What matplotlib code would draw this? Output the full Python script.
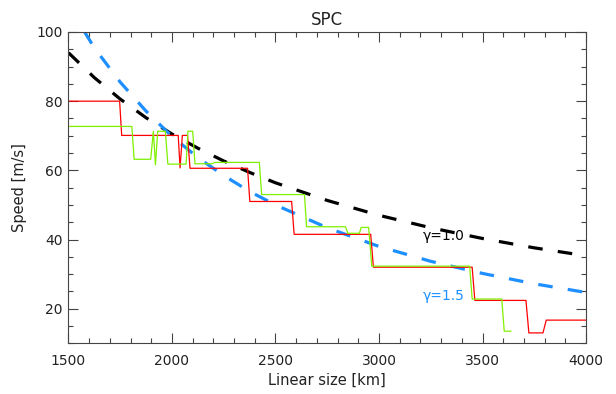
import matplotlib
matplotlib.use('Agg')
import matplotlib.pyplot as plt
from matplotlib.ticker import MultipleLocator

# red step curve (size in km, speed in m/s)
red_size = [1500, 1747, 1757, 2030, 2039, 2050, 2075, 2087, 2365, 2376, 2578, 2590,
            2960, 2973, 3450, 3463, 3710, 3724, 3792, 3808, 4000]
red_speed = [80.0, 80.0, 70.1, 70.1, 60.7, 70.1, 70.1, 60.6, 60.6, 51.0, 51.0, 41.5,
             41.5, 32.0, 32.0, 22.4, 22.4, 13.0, 13.0, 16.7, 16.7]

# green step curve
green_size = [1500, 1806, 1817, 1897, 1910, 1920, 1931, 1968, 1980, 2068, 2077, 2100,
              2111, 2195, 2205, 2422, 2433, 2640, 2650, 2838, 2850, 2905, 2914, 2950,
              2965, 3438, 3450, 3593, 3605, 3637]
green_speed = [72.7, 72.7, 63.2, 63.2, 71.3, 61.6, 71.3, 71.3, 61.8, 61.8, 71.3, 71.3,
               61.9, 61.9, 62.3, 62.3, 53.0, 53.0, 43.7, 43.7, 41.8, 41.8, 43.5, 43.5,
               32.3, 32.3, 22.8, 22.8, 13.5, 13.5]

# dashed reference curves
ref_size = [1500, 1625, 1750, 1875, 2000, 2125, 2250, 2375, 2500, 2750, 3000, 3250,
            3500, 3750, 4000]
gamma10_speed = [94.0, 86.8, 80.6, 75.2, 70.5, 66.4, 62.7, 59.4, 56.4, 51.3, 47.0,
                 43.4, 40.3, 37.6, 35.3]
gamma15_speed = [107.6, 95.4, 85.5, 77.1, 69.8, 63.7, 58.5, 53.9, 50.0, 43.4, 38.0,
                 33.7, 30.2, 27.2, 24.7]

plt.rcParams['lines.scale_dashes'] = False
plt.rcParams['font.family'] = 'DejaVu Sans'

fig = plt.figure(figsize=(6.16, 3.94), dpi=100)
ax = fig.add_axes([0.1112, 0.1287, 0.8401, 0.7901])

ax.plot(ref_size, gamma10_speed, color='black', lw=2.3, dashes=(10.5, 11))
ax.plot(ref_size, gamma15_speed, color='#1E8FFF', lw=2.3, dashes=(10.5, 11))
ax.plot(red_size, red_speed, color='#FF0000', lw=0.9)
ax.plot(green_size, green_speed, color='#7FF000', lw=0.9)

ax.text(3209, 41, '\u03b3=1.0', color='black', fontsize=10, va='center')
ax.text(3209, 23.7, '\u03b3=1.5', color='#1E8FFF', fontsize=10, va='center')

ax.set_xlim(1500, 4000)
ax.set_ylim(10, 100)
ax.xaxis.set_major_locator(MultipleLocator(500))
ax.xaxis.set_minor_locator(MultipleLocator(100))
ax.yaxis.set_major_locator(MultipleLocator(20))
ax.yaxis.set_minor_locator(MultipleLocator(5))

ax.tick_params(which='both', direction='in', top=True, right=True,
               color='#444444', width=0.8, labelsize=10, labelcolor='#222222')
ax.tick_params(which='major', length=7.2)
ax.tick_params(which='minor', length=3.6)
ax.tick_params(axis='x', pad=8)
ax.tick_params(axis='y', pad=4)
for s in ax.spines.values():
    s.set_color('#444444')
    s.set_linewidth(0.8)

ax.set_title('SPC', fontsize=12, color='#222222', pad=5)
ax.set_xlabel('Linear size [km]', fontsize=10.5, color='#222222', labelpad=3)
ax.set_ylabel('Speed [m/s]', fontsize=10.5, color='#222222', labelpad=7)

fig.savefig('out.png', dpi=100)
